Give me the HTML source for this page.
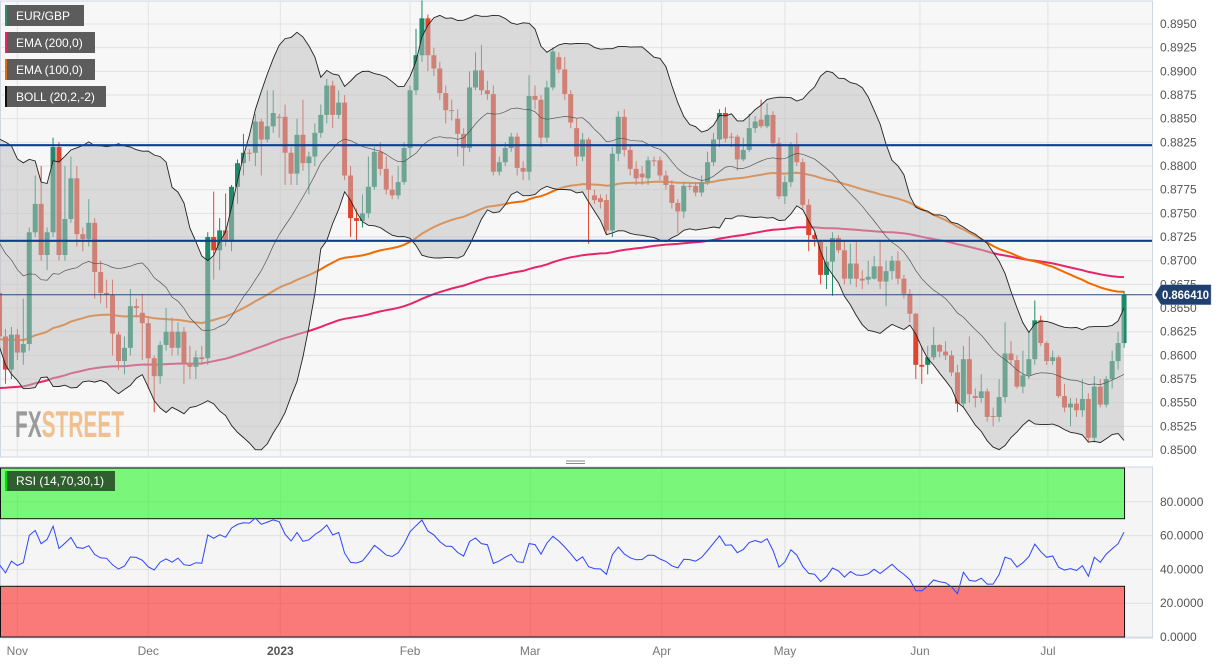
<!DOCTYPE html>
<html><head><meta charset="utf-8">
<style>
html,body{margin:0;padding:0;background:#fff;}
body{width:1229px;height:664px;overflow:hidden;font-family:"Liberation Sans",sans-serif;}
svg text{font-family:"Liberation Sans",sans-serif;}
</style></head>
<body>
<svg id="chart" width="1229" height="664" viewBox="0 0 1229 664" xmlns="http://www.w3.org/2000/svg"></svg>
<script>
// ---- data ----
const priceTicks = [0.8500,0.8525,0.8550,0.8575,0.8600,0.8625,0.8650,0.8675,0.8700,0.8725,0.8750,0.8775,0.8800,0.8825,0.8850,0.8875,0.8900,0.8925,0.8950];
const rsiTicks = [0,20,40,60,80];
const monthLabels = ["Nov","Dec","2023","Feb","Mar","Apr","May","Jun","Jul"];
const monthIndex = [3,25,47.2,69,89.2,111.3,132,154.7,176.2];
const levelLines = [0.8822,0.8721];
const lastPrice = 0.866410;
const priorCloses = [0.8800,0.8760,0.8810,0.8740,0.8690,0.8770,0.8820,0.8740,0.8680,0.8720,0.8670,0.8750,0.8700,0.8640,0.8690,0.8740,0.8650,0.8700,0.8680];
const ema100Seed = 0.8617, ema200Seed = 0.8565;
const rsiPrevClose = 0.8632;
const rsiSeedGain = 0.00100, rsiSeedLoss = 0.00125;
const opens = [.8666,.8620,.8585,.8622,.8603,.8612,.8730,.8760,.8706,.8730,.8820,.8706,.8744,.8787,.8728,.8723,.8740,.8688,.8666,.8664,
.8622,.8594,.8608,.8652,.8645,.8634,.8597,.8578,.8611,.8625,.8608,.8625,.8592,.8588,.8598,.8597,.8725,.8711,.8732,.8722,
.8778,.8803,.8814,.8814,.8847,.8828,.8842,.8852,.8852,.8814,.8792,.8833,.8803,.8810,.8835,.8854,.8885,.8854,.8867,.8790,
.8745,.8742,.8750,.8778,.8815,.8797,.8775,.8769,.8783,.8819,.8880,.8917,.8956,.8917,.8903,.8877,.8859,.8850,.8834,.8819,
.8883,.8901,.8880,.8876,.8794,.8804,.8819,.8831,.8798,.8794,.8874,.8870,.8830,.8883,.8915,.8902,.8876,.8840,.8810,.8828,
.8769,.8766,.8764,.8732,.8813,.8852,.8817,.8797,.8792,.8787,.8806,.8806,.8790,.8780,.8761,.8752,.8779,.8779,.8772,.8783,
.8804,.8828,.8856,.8831,.8831,.8807,.8817,.8840,.8849,.8842,.8854,.8824,.8768,.8783,.8822,.8804,.8759,.8727,.8720,.8685,
.8699,.8724,.8711,.8681,.8697,.8681,.8680,.8681,.8694,.8678,.8689,.8700,.8681,.8665,.8644,.8590,.8590,.8598,.8611,.8604,
.8600,.8582,.8549,.8596,.8557,.8555,.8562,.8536,.8535,.8556,.8602,.8595,.8567,.8579,.8596,.8637,.8613,.8594,.8598,.8557,
.8545,.8549,.8542,.8554,.8513,.8567,.8548,.8575,.8594,.8613];
const closes = [.8620,.8585,.8622,.8603,.8612,.8730,.8760,.8706,.8730,.8820,.8706,.8744,.8787,.8728,.8723,.8740,.8688,.8666,.8664,.8623,
.8594,.8608,.8652,.8650,.8634,.8597,.8578,.8611,.8625,.8608,.8625,.8592,.8588,.8598,.8596,.8725,.8711,.8732,.8722,.8778,
.8803,.8814,.8813,.8847,.8828,.8842,.8856,.8851,.8814,.8792,.8833,.8803,.8810,.8835,.8854,.8885,.8854,.8867,.8790,.8745,
.8742,.8750,.8778,.8815,.8797,.8775,.8769,.8783,.8819,.8880,.8917,.8956,.8917,.8903,.8877,.8859,.8858,.8834,.8819,.8883,
.8901,.8880,.8876,.8794,.8804,.8819,.8831,.8798,.8794,.8874,.8870,.8830,.8883,.8921,.8902,.8876,.8846,.8810,.8828,.8775,
.8764,.8762,.8732,.8813,.8852,.8817,.8797,.8787,.8788,.8806,.8805,.8790,.8780,.8761,.8752,.8779,.8778,.8772,.8783,.8804,
.8828,.8856,.8829,.8830,.8807,.8817,.8840,.8847,.8842,.8854,.8824,.8768,.8783,.8822,.8804,.8759,.8727,.8723,.8685,.8699,
.8724,.8711,.8681,.8697,.8681,.8679,.8683,.8694,.8678,.8689,.8700,.8681,.8665,.8644,.8590,.8588,.8598,.8611,.8604,.8600,
.8582,.8549,.8596,.8559,.8555,.8562,.8535,.8535,.8556,.8602,.8595,.8567,.8579,.8596,.8637,.8613,.8594,.8598,.8557,.8545,
.8549,.8542,.8554,.8513,.8567,.8548,.8575,.8594,.8613,.8664];
const highs = [.8690,.8628,.8630,.8628,.8660,.8735,.8790,.8800,.8735,.8830,.8825,.8800,.8810,.8800,.8735,.8765,.8745,.8700,.8680,.8680,
.8625,.8620,.8670,.8660,.8665,.8640,.8600,.8615,.8650,.8640,.8635,.8630,.8610,.8605,.8610,.8730,.8773,.8745,.8771,.8780,
.8807,.8834,.8818,.8855,.8850,.8880,.8880,.8855,.8865,.8820,.8850,.8870,.8815,.8845,.8865,.8892,.8890,.8880,.8875,.8800,
.8755,.8770,.8810,.8820,.8825,.8810,.8790,.8800,.8825,.8885,.8945,.8975,.8960,.8925,.8910,.8885,.8870,.8860,.8840,.8900,
.8920,.8928,.8890,.8885,.8810,.8825,.8835,.8835,.8805,.8896,.8885,.8875,.8890,.8925,.8920,.8915,.8880,.8850,.8835,.8830,
.8775,.8770,.8770,.8820,.8858,.8860,.8822,.8805,.8800,.8810,.8810,.8810,.8795,.8785,.8765,.8783,.8782,.8783,.8790,.8815,
.8835,.8860,.8862,.8835,.8833,.8830,.8855,.8853,.8870,.8866,.8858,.8830,.8790,.8825,.8835,.8808,.8765,.8730,.8722,.8715,
.8730,.8727,.8720,.8718,.8720,.8690,.8700,.8705,.8720,.8700,.8705,.8710,.8685,.8670,.8645,.8610,.8610,.8630,.8612,.8615,
.8605,.8590,.8610,.8620,.8565,.8580,.8565,.8545,.8575,.8635,.8615,.8600,.8605,.8625,.8658,.8642,.8615,.8605,.8600,.8570,
.8555,.8555,.8575,.8560,.8578,.8575,.8578,.8605,.8625,.8668];
const lows = [.8610,.8570,.8575,.8595,.8590,.8605,.8725,.8700,.8690,.8725,.8700,.8700,.8740,.8715,.8710,.8715,.8660,.8655,.8650,.8600,
.8585,.8580,.8600,.8640,.8595,.8565,.8540,.8570,.8605,.8600,.8600,.8570,.8575,.8575,.8590,.8590,.8680,.8690,.8715,.8710,
.8760,.8790,.8805,.8800,.8790,.8825,.8835,.8830,.8780,.8780,.8780,.8795,.8770,.8800,.8830,.8845,.8840,.8850,.8785,.8725,
.8720,.8735,.8745,.8775,.8790,.8770,.8765,.8765,.8780,.8810,.8875,.8910,.8900,.8895,.8870,.8845,.8848,.8810,.8800,.8815,
.8880,.8875,.8870,.8790,.8790,.8800,.8815,.8790,.8785,.8785,.8860,.8820,.8825,.8880,.8898,.8870,.8840,.8800,.8805,.8718,
.8760,.8755,.8728,.8725,.8805,.8810,.8790,.8780,.8780,.8780,.8800,.8785,.8775,.8755,.8729,.8745,.8775,.8768,.8768,.8780,
.8800,.8820,.8825,.8820,.8795,.8805,.8815,.8835,.8840,.8840,.8820,.8765,.8760,.8778,.8800,.8755,.8710,.8715,.8675,.8670,
.8663,.8708,.8675,.8675,.8672,.8670,.8675,.8680,.8670,.8652,.8680,.8675,.8660,.8635,.8575,.8570,.8580,.8595,.8598,.8595,
.8578,.8540,.8545,.8550,.8545,.8550,.8530,.8525,.8530,.8550,.8590,.8565,.8560,.8575,.8590,.8610,.8590,.8590,.8555,.8540,
.8525,.8535,.8535,.8508,.8508,.8545,.8545,.8565,.8585,.8608];

// ---- helpers ----
const NS="http://www.w3.org/2000/svg";
const svg=document.getElementById('chart');
function mk(tag,attrs,parent){const e=document.createElementNS(NS,tag);for(const k in attrs)e.setAttribute(k,attrs[k]);(parent||svg).appendChild(e);return e;}
const PLOT_R=1152, MAIN_T=1, MAIN_B=457, RSI_T=467, RSI_B=638;
function xIdx(i){return -0.5+5.95*i;}
function yP(p){return 24+(0.8950-p)/0.0025*23.67;}
function yR(v){return 637-v*1.69;}

// ---- indicators ----
const N=closes.length;
const ema100=[],ema200=[];
let e1=ema100Seed,e2=ema200Seed;
for(let i=0;i<N;i++){e1=e1+(closes[i]-e1)*2/101;e2=e2+(closes[i]-e2)*2/201;ema100.push(e1);ema200.push(e2);}
const all=priorCloses.concat(closes);
const bbU=[],bbM=[],bbL=[];
for(let i=0;i<N;i++){const w=all.slice(i,i+20);const m=w.reduce((a,b)=>a+b,0)/20;const sd=Math.sqrt(w.reduce((a,b)=>a+(b-m)*(b-m),0)/20);bbM.push(m);bbU.push(m+2*sd);bbL.push(m-2*sd);}
const rsi=[];let ag=rsiSeedGain,al=rsiSeedLoss;
for(let i=0;i<N;i++){const prev=i===0?rsiPrevClose:closes[i-1];const d=closes[i]-prev;ag=(ag*13+Math.max(d,0))/14;al=(al*13+Math.max(-d,0))/14;rsi.push(100-100/(1+ag/al));}

// ---- main panel ----
const mainBg=mk('rect',{x:0.5,y:MAIN_T,width:PLOT_R,height:MAIN_B-MAIN_T,fill:'#f7f7f7',stroke:'#cfd6e4'});

const grid=mk('g',{});
priceTicks.forEach(p=>{mk('line',{x1:0,x2:PLOT_R,y1:yP(p),y2:yP(p),stroke:'#e2e2e2','stroke-width':1},grid);});
monthIndex.forEach(mi=>{mk('line',{x1:xIdx(mi),x2:xIdx(mi),y1:MAIN_T,y2:MAIN_B,stroke:'#e2e2e2','stroke-width':1},grid);});

function linePath(arr,f){return arr.map((v,i)=>(i?'L':'M')+xIdx(i).toFixed(1)+' '+f(v).toFixed(1)).join(' ');}
const e200=mk('path',{d:linePath(ema200,yP),fill:'none',stroke:'#e8246a','stroke-width':2});

const e100=mk('path',{d:linePath(ema100,yP),fill:'none',stroke:'#f06a00','stroke-width':2});


// candles
const cg=mk('g',{});
for(let i=0;i<N;i++){
 const up=closes[i]>=opens[i];const col=up?'#1f8a6a':'#e2432c';
 const x=xIdx(i);
 const c=mk('g',{},cg);
 
 
 mk('line',{x1:x,x2:x,y1:yP(highs[i]),y2:yP(lows[i]),stroke:col,'stroke-width':1},c);
 const t=yP(Math.max(opens[i],closes[i])),b=yP(Math.min(opens[i],closes[i]));
 mk('rect',{x:x-2.5,y:t,width:5,height:Math.max(1,b-t),fill:col},c);
}

// bollinger
let bp='';for(let i=0;i<N;i++)bp+=(i?'L':'M')+xIdx(i).toFixed(1)+' '+yP(bbU[i]).toFixed(1)+' ';
for(let i=N-1;i>=0;i--)bp+='L'+xIdx(i).toFixed(1)+' '+yP(bbL[i]).toFixed(1)+' ';
const bf=mk('path',{d:bp+'Z',fill:'rgba(190,190,190,0.5)',stroke:'none'});

const bu=mk('path',{d:linePath(bbU,yP),fill:'none',stroke:'#222','stroke-width':0.9});

const bl=mk('path',{d:linePath(bbL,yP),fill:'none',stroke:'#222','stroke-width':0.9});

const bm=mk('path',{d:linePath(bbM,yP),fill:'none',stroke:'#555','stroke-width':0.7});


levelLines.forEach(p=>{const l=mk('line',{x1:0,x2:PLOT_R,y1:yP(p),y2:yP(p),stroke:'#0d3d99','stroke-width':2.2});
 });
const pl=mk('line',{x1:0,x2:PLOT_R,y1:yP(lastPrice),y2:yP(lastPrice),stroke:'#2a4a78','stroke-width':1});


// price axis
const pa=mk('g',{});
priceTicks.forEach(p=>{const t=mk('text',{x:1160,y:yP(p)+4,'font-size':12,fill:'#555'},pa);t.textContent=p.toFixed(4);});
const yl=yP(lastPrice);
const tag=mk('g',{});
mk('path',{d:`M1155 ${yl} L1161 ${yl-10} L1211 ${yl-10} L1211 ${yl+10} L1161 ${yl+10} Z`,fill:'#1f3f6e',stroke:'#8aa0c0','stroke-width':0.5},tag);
const lt=mk('text',{x:1162,y:yl+4.5,'font-size':12,'font-weight':'bold',fill:'#fff',textLength:47,lengthAdjust:'spacingAndGlyphs'},tag);lt.textContent=lastPrice.toFixed(6);

// legend
const legendItems=[["EUR/GBP","#2e8b6e",79],["EMA (200,0)","#e8246a",90],["EMA (100,0)","#e06a10",90],["BOLL (20,2,-2)","#111",101]];
legendItems.forEach((it,k)=>{const g=mk('g',{});
 mk('rect',{x:5,y:5+k*27,width:it[2],height:21,fill:'#5c5c5c'},g);
 mk('rect',{x:5,y:5+k*27,width:2,height:21,fill:it[1]},g);
 const t=mk('text',{x:16,y:20+k*27,'font-size':12,fill:'#fff'},g);t.textContent=it[0];});

// watermark
const wm=mk('text',{x:15,y:437,'font-size':37,'font-weight':'bold',textLength:109,lengthAdjust:'spacingAndGlyphs'});

const t1=mk('tspan',{fill:'#9a9a9a'},wm);t1.textContent='FX';
const t2=mk('tspan',{fill:'#f0c18f'},wm);t2.textContent='STREET';

const sep=mk('g',{});
mk('line',{x1:566,x2:585,y1:461,y2:461,stroke:'#888','stroke-width':1},sep);
mk('line',{x1:566,x2:585,y1:463.5,y2:463.5,stroke:'#888','stroke-width':1},sep);

// ---- RSI panel ----
const rb=mk('rect',{x:0.5,y:RSI_T,width:PLOT_R,height:RSI_B-RSI_T,fill:'#f5f5f5',stroke:'#cfd6e4'});

const rg=mk('g',{});
rsiTicks.forEach(v=>{mk('line',{x1:0,x2:PLOT_R,y1:yR(v),y2:yR(v),stroke:'#e0e0e0'},rg);});
monthIndex.forEach(mi=>{mk('line',{x1:xIdx(mi),x2:xIdx(mi),y1:RSI_T,y2:RSI_B,stroke:'#e0e0e0'},rg);});
const zEnd=xIdx(N-1);
const ob=mk('rect',{x:0.5,y:yR(100),width:zEnd,height:yR(70)-yR(100),fill:'rgba(0,250,0,0.5)',stroke:'#111','stroke-width':1});

const os=mk('rect',{x:0.5,y:yR(30),width:zEnd,height:yR(0)-yR(30),fill:'rgba(255,0,0,0.5)',stroke:'#111','stroke-width':1});

const rl=mk('path',{d:linePath(rsi,yR),fill:'none',stroke:'#2b45ff','stroke-width':1});

const rlg=mk('g',{});
mk('rect',{x:5,y:471,width:110,height:20,fill:'#2f5e2f'},rlg);
mk('rect',{x:5,y:471,width:2,height:20,fill:'#00e000'},rlg);
const rt=mk('text',{x:16,y:485,'font-size':12,fill:'#fff'},rlg);rt.textContent='RSI (14,70,30,1)';
const ra=mk('g',{});
rsiTicks.forEach(v=>{const t=mk('text',{x:1160,y:yR(v)+4,'font-size':12,fill:'#555'},ra);t.textContent=v.toFixed(4);});

// time axis
const ta=mk('g',{});
monthLabels.forEach((m,k)=>{const t=mk('text',{x:xIdx(monthIndex[k]),y:655,'font-size':12,fill:m==='2023'?'#555':'#777','font-weight':m==='2023'?'bold':'normal','text-anchor':'middle'},ta);t.textContent=m;});
</script>
</body></html>
